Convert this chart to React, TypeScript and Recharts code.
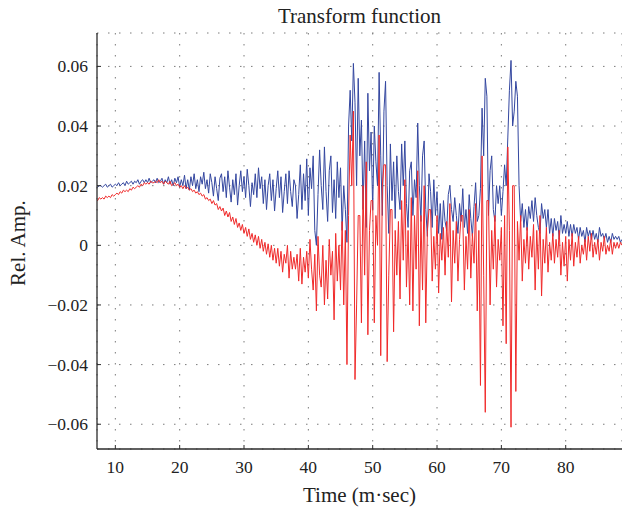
import { LineChart, Line, XAxis, YAxis, CartesianGrid } from 'recharts';

// sampling grid of the recorded trace (m-sec)
const T_START = 7.0;
const T_STEP = 0.25;

// relative amplitude, every 0.25 ms from 7.0 to 89.0 (one row per ms)
const blueAmp = [
  0.020, 0.0195, 0.020, 0.020,
  0.0195, 0.020, 0.0205, 0.0195,
  0.020, 0.0205, 0.0195, 0.020,
  0.0205, 0.020, 0.021, 0.020,
  0.0205, 0.021, 0.020, 0.0215,
  0.0205, 0.021, 0.0215, 0.0205,
  0.0215, 0.021, 0.022, 0.0205,
  0.0215, 0.022, 0.021, 0.022,
  0.021, 0.0225, 0.021, 0.0215,
  0.022, 0.021, 0.0225, 0.021,
  0.0215, 0.0225, 0.0205, 0.022,
  0.021, 0.023, 0.0205, 0.022,
  0.020, 0.0225, 0.021, 0.023,
  0.0195, 0.022, 0.020, 0.0235,
  0.019, 0.022, 0.0185, 0.023,
  0.020, 0.024, 0.019, 0.022,
  0.018, 0.023, 0.0205, 0.0245,
  0.019, 0.022, 0.0175, 0.024,
  0.021, 0.0165, 0.023, 0.019,
  0.015, 0.0225, 0.024, 0.018,
  0.023, 0.016, 0.025, 0.0195,
  0.0145, 0.022, 0.017, 0.024,
  0.0135, 0.020, 0.025, 0.018,
  0.023, 0.016, 0.0255, 0.020,
  0.013, 0.021, 0.017, 0.024,
  0.016, 0.026, 0.019, 0.023,
  0.014, 0.022, 0.012, 0.020,
  0.024, 0.015, 0.022, 0.0115,
  0.019, 0.025, 0.016, 0.023,
  0.011, 0.018, 0.024, 0.014,
  0.025, 0.018, 0.013, 0.022,
  0.020, 0.009, 0.017, 0.027,
  0.012, 0.024, 0.015, 0.029,
  0.010, 0.026, 0.019, 0.030,
  0.005, 0.000, 0.017, 0.032,
  0.020, 0.012, 0.033, 0.018,
  0.008, 0.025, 0.030, 0.011,
  0.022, 0.009, 0.028, 0.016,
  0.026, 0.005, 0.020, 0.012,
  0.001, 0.040, 0.052, 0.035,
  0.061, 0.048, 0.020, 0.056,
  0.030, 0.042, 0.012, 0.035,
  0.006, 0.051, 0.025, 0.038,
  0.012, 0.040, 0.028, 0.020,
  0.058, 0.030, 0.010, 0.045,
  0.055, 0.020, 0.004, 0.034,
  0.015, 0.028, 0.009, 0.030,
  0.018, 0.012, 0.034, 0.020,
  0.035, 0.014, 0.006, 0.025,
  0.028, 0.010, 0.022, 0.016,
  0.041, 0.020, 0.008, 0.030,
  0.035, 0.012, 0.003, 0.024,
  0.018, 0.006, 0.022, 0.010,
  0.018, 0.004, 0.014, 0.002,
  0.015, 0.008, 0.005, 0.017,
  0.020, 0.012, 0.008, 0.016,
  0.010, 0.004, 0.014, 0.008,
  0.019, 0.006, 0.012, 0.004,
  0.017, 0.009, 0.003, 0.013,
  0.021, 0.008, 0.010, 0.019,
  0.046, 0.030, 0.056, 0.050,
  0.010, 0.025, 0.030, 0.012,
  0.008, 0.020, 0.014, 0.020,
  0.010, 0.018, 0.027, 0.020,
  0.036, 0.052, 0.062, 0.040,
  0.045, 0.055, 0.050, 0.020,
  0.008, 0.014, 0.006, 0.012,
  0.005, 0.013, 0.009, 0.015,
  0.008, 0.016, 0.010, 0.006,
  0.004, 0.014, 0.009, 0.012,
  0.006, 0.012, 0.004, 0.009,
  0.003, 0.009, 0.005, 0.008,
  0.002, 0.010, 0.004, 0.007,
  0.004, 0.008, 0.003, 0.007,
  0.003, 0.007, 0.004, 0.006,
  0.002, 0.006, 0.003, 0.005,
  0.001, 0.006, 0.003, 0.005,
  0.002, 0.005, 0.002, 0.004,
  0.001, 0.006, 0.003, 0.004,
  0.002, 0.004, 0.001, 0.003,
  0.001, 0.004, 0.002, 0.003,
  0.002, 0.003, 0.001, 0.002,
  0.002,
];

const redAmp = [
  0.015, 0.015, 0.016, 0.0155,
  0.016, 0.0155, 0.0165, 0.016,
  0.0165, 0.016, 0.017, 0.0165,
  0.017, 0.0175, 0.017, 0.018,
  0.0175, 0.0185, 0.018, 0.0185,
  0.018, 0.019, 0.0185, 0.0195,
  0.019, 0.0195, 0.020, 0.0195,
  0.0205, 0.020, 0.021, 0.0205,
  0.021, 0.0205, 0.0215, 0.021,
  0.021, 0.0215, 0.021, 0.022,
  0.021, 0.0215, 0.0205, 0.0215,
  0.021, 0.0205, 0.0215, 0.020,
  0.0205, 0.021, 0.020, 0.0205,
  0.0195, 0.020, 0.019, 0.020,
  0.019, 0.0195, 0.0185, 0.019,
  0.018, 0.0185, 0.0175, 0.018,
  0.017, 0.0175, 0.0165, 0.017,
  0.0155, 0.016, 0.015, 0.0155,
  0.014, 0.015, 0.0135, 0.014,
  0.012, 0.013, 0.0115, 0.0125,
  0.010, 0.0115, 0.0095, 0.011,
  0.008, 0.0095, 0.007, 0.009,
  0.006, 0.0075, 0.005, 0.007,
  0.004, 0.006, 0.003, 0.0055,
  0.002, 0.004, 0.001, 0.0035,
  0.000, 0.003, -0.001, 0.002,
  -0.002, 0.001, -0.003, 0.0005,
  -0.004, 0.000, -0.005, -0.001,
  -0.006, -0.001, -0.007, -0.002,
  -0.009, -0.003, -0.006, 0.000,
  -0.011, -0.002, -0.008, -0.004,
  -0.008, -0.003, -0.012, -0.001,
  -0.013, -0.004, -0.009, -0.002,
  -0.011, 0.002, -0.008, -0.015,
  -0.003, -0.022, 0.003, -0.010,
  -0.014, 0.000, -0.020, -0.005,
  -0.018, 0.002, -0.010, -0.002,
  -0.025, 0.004, -0.012, 0.000,
  -0.015, 0.008, -0.020, 0.005,
  -0.040, 0.010, 0.037, 0.020,
  0.045, -0.045, -0.020, 0.010,
  0.010, -0.026, 0.020, -0.010,
  0.028, -0.030, 0.005, 0.015,
  0.015, -0.026, 0.010, 0.000,
  0.037, -0.037, 0.020, 0.027,
  0.027, -0.039, -0.010, 0.012,
  0.012, -0.029, 0.005, -0.010,
  0.008, -0.018, 0.015, -0.005,
  0.022, -0.014, 0.005, -0.020,
  0.016, -0.022, 0.010, -0.008,
  0.025, -0.027, 0.010, -0.015,
  0.020, -0.026, 0.005, 0.012,
  0.012, -0.012, 0.003, -0.008,
  0.010, -0.016, 0.004, -0.005,
  0.006, -0.010, 0.008, -0.004,
  0.014, -0.019, 0.005, -0.006,
  0.008, -0.012, 0.002, 0.010,
  0.010, -0.015, 0.003, -0.008,
  0.012, -0.011, 0.004, -0.006,
  0.014, -0.022, 0.005, -0.047,
  0.030, -0.010, -0.056, 0.015,
  0.015, -0.020, 0.005, -0.008,
  0.010, -0.014, 0.002, -0.005,
  0.006, -0.027, 0.010, -0.033,
  0.033, 0.005, -0.061, 0.020,
  0.020, -0.049, 0.008, -0.005,
  0.010, -0.012, 0.002, -0.006,
  0.006, -0.008, 0.003, -0.004,
  0.007, -0.015, 0.005, -0.008,
  0.010, -0.017, 0.002, -0.006,
  0.006, -0.009, 0.001, -0.005,
  0.004, -0.006, 0.002, -0.004,
  0.005, -0.010, 0.001, -0.007,
  0.003, -0.012, 0.002, -0.005,
  0.004, -0.007, 0.001, -0.004,
  0.003, -0.006, 0.000, -0.003,
  0.002, -0.005, 0.003, -0.002,
  0.004, -0.004, 0.001, -0.003,
  0.002, -0.005, 0.001, -0.002,
  0.003, -0.003, 0.000, -0.002,
  0.002, -0.003, 0.001, -0.001,
  0.001, -0.001, 0.001, 0.000,
  0.000,
];

const xTicks = [10, 20, 30, 40, 50, 60, 70, 80];
const yTicks = [-0.06, -0.04, -0.02, 0, 0.02, 0.04, 0.06];

const chartData = blueAmp.map((b, i) => ({
  t: T_START + i * T_STEP,
  blue: b,
  red: redAmp[i],
}));

const FONT = '"Liberation Serif", "DejaVu Serif", serif';
const AXIS = '#2b2b2b';
const MARGIN = 9;

const fmtY = (v: number) => {
  if (v === 0) return '0';
  const s = Math.abs(v).toFixed(2);
  return v < 0 ? `\u2212${s}` : s;
};

function LeftTick(props: any) {
  const { x, y, payload } = props;
  const ax = x + MARGIN;
  return (
    <g>
      <line x1={ax} x2={ax + 4} y1={y} y2={y} stroke={AXIS} strokeWidth={1} />
      <text x={x} y={y} dy={6} textAnchor="end" fontSize={17.5} fill="#222" fontFamily={FONT}>
        {fmtY(payload.value)}
      </text>
    </g>
  );
}

function BottomTick(props: any) {
  const { x, y, payload } = props;
  const ay = y - MARGIN;
  return (
    <g>
      <line x1={x} x2={x} y1={ay} y2={ay - 4} stroke={AXIS} strokeWidth={1} />
      <text x={x} y={ay} dy={24} textAnchor="middle" fontSize={17.5} fill="#222" fontFamily={FONT}>
        {payload.value}
      </text>
    </g>
  );
}

function TopTick(props: any) {
  const { x, y } = props;
  const ay = y + MARGIN;
  return <line x1={x} x2={x} y1={ay} y2={ay + 4} stroke={AXIS} strokeWidth={1} />;
}

export default function App() {
  return (
    <div style={{ position: 'absolute', left: 0, top: 0, width: 622, height: 511, background: '#fff', fontFamily: FONT }}>
      <LineChart width={622} height={511} data={chartData} margin={{ top: 33, right: 0, bottom: 0, left: 0 }}>
        <CartesianGrid
          stroke="#7a7a7a"
          strokeDasharray="1.5 9.5"
          strokeWidth={1}
        />
        <XAxis
          dataKey="t"
          type="number"
          domain={[7.15, 88.75]}
          ticks={xTicks}
          allowDataOverflow
          height={62}
          tickSize={0}
          tickMargin={MARGIN}
          tick={<BottomTick />}
          axisLine={{ stroke: AXIS, strokeWidth: 1.3 }}
        />
        <XAxis
          xAxisId="top"
          orientation="top"
          dataKey="t"
          type="number"
          domain={[7.15, 88.75]}
          ticks={xTicks}
          allowDataOverflow
          height={0}
          tickSize={0}
          tickMargin={MARGIN}
          tick={<TopTick />}
          axisLine={{ stroke: AXIS, strokeWidth: 1.3 }}
        />
        <YAxis
          type="number"
          domain={[-0.0683, 0.0712]}
          ticks={yTicks}
          allowDataOverflow
          width={97}
          tickSize={0}
          tickMargin={MARGIN}
          tick={<LeftTick />}
          axisLine={{ stroke: AXIS, strokeWidth: 1.3 }}
        />
        <Line
          type="linear"
          dataKey="blue"
          stroke="#3447a0"
          strokeWidth={1}
          dot={false}
          isAnimationActive={false}
        />
        <Line
          type="linear"
          dataKey="red"
          stroke="#f02a2a"
          strokeWidth={1}
          dot={false}
          isAnimationActive={false}
        />
      </LineChart>
      <div style={{ position: 'absolute', left: 97, width: 525, top: 4, textAlign: 'center', fontSize: 21, color: '#222' }}>
        Transform function
      </div>
      <div style={{ position: 'absolute', left: 97, width: 525, top: 483, textAlign: 'center', fontSize: 21, color: '#222' }}>
        Time (m·sec)
      </div>
      <div
        style={{
          position: 'absolute', left: 18, top: 243, fontSize: 21, color: '#222',
          transform: 'translate(-50%, -50%) rotate(-90deg)', whiteSpace: 'nowrap',
        }}
      >
        Rel. Amp.
      </div>
    </div>
  );
}
